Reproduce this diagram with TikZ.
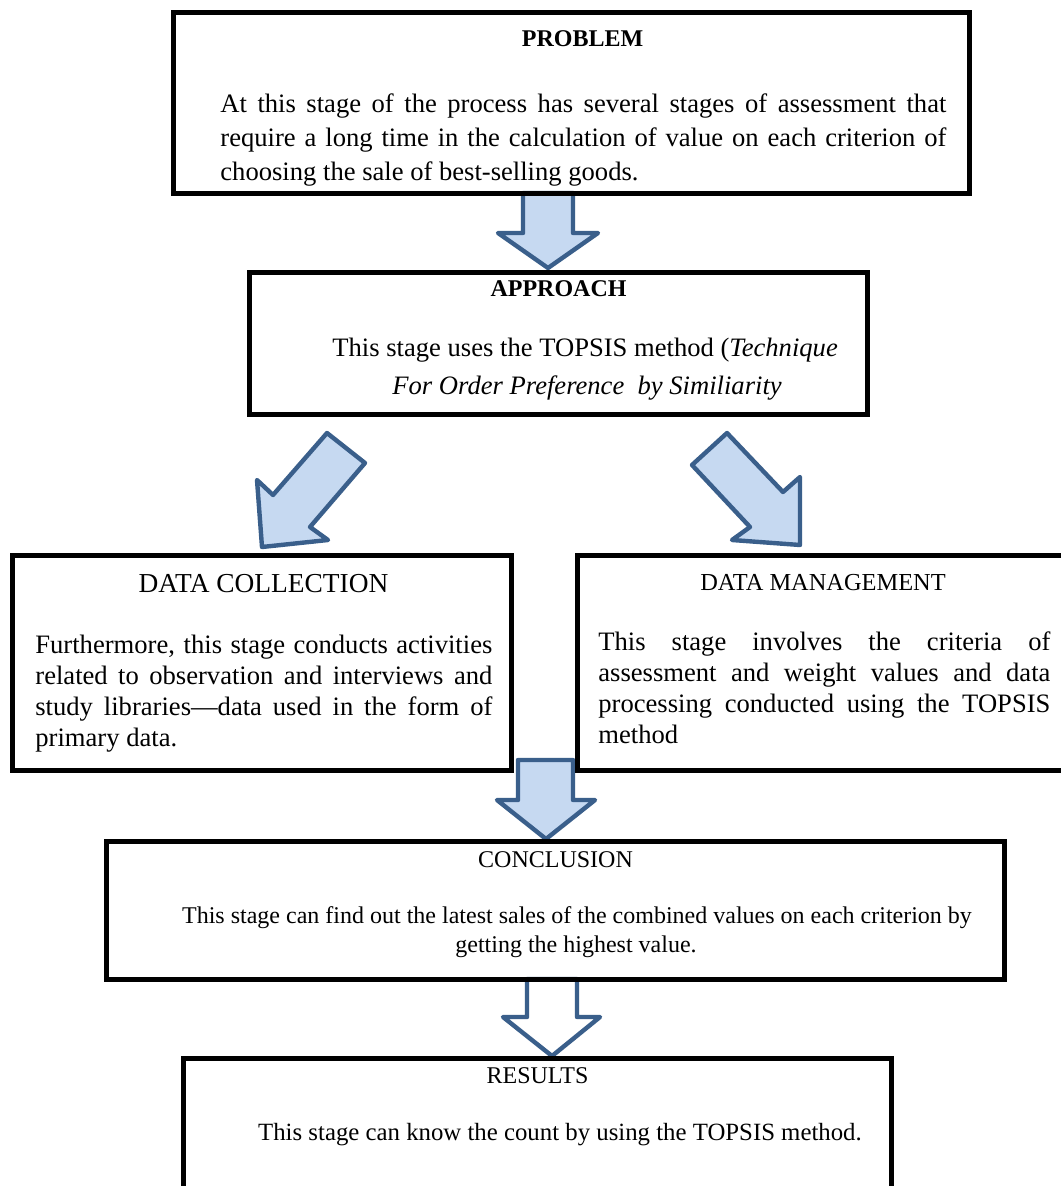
\documentclass[tikz,border=0pt]{standalone}
\usepackage{fontspec}
\setmainfont{Liberation Serif}
\usetikzlibrary{fit}
\definecolor{arrowfill}{HTML}{C6D9F1}
\definecolor{arrowline}{HTML}{3A5F8B}
\begin{document}
\begin{tikzpicture}[x=0.5pt,y=-0.5pt,
  box/.style={draw=black, line width=2.5pt, inner sep=0pt},
  blockarrow/.style={draw=arrowline, fill=arrowfill, line width=2.2pt, line join=round},
  hollowarrow/.style={blockarrow, fill=white},
  body/.style={inner sep=0pt, anchor=base west, font=\fontsize{13.3}{15}\selectfont},
  bodyc/.style={inner sep=0pt, anchor=base, font=\fontsize{13.7}{15}\selectfont},
  small/.style={inner sep=0pt, anchor=base, font=\fontsize{12}{14}\selectfont},
  headb/.style={inner sep=0pt, anchor=base, font=\fontsize{12}{14}\selectfont\bfseries},
  headr/.style={inner sep=0pt, anchor=base, font=\fontsize{12.2}{14}\selectfont}]
\useasboundingbox (0,0) rectangle (1060,1186);

% block arrows
\draw[blockarrow] (523,193) -- (573,193) -- (573,233) -- (598,233) -- (548,268) -- (498,233) -- (523,233) -- cycle;
\draw[blockarrow] (327,433) -- (365,463) -- (310,527) -- (328,540) -- (262,547) -- (257,480) -- (273,495) -- cycle;
\draw[blockarrow] (727,433) -- (692,465) -- (750,527) -- (732,540) -- (800,545) -- (800,477) -- (783,492) -- cycle;
\draw[blockarrow] (518,760) -- (573,760) -- (573,800) -- (595,800) -- (546,839) -- (497,800) -- (518,800) -- cycle;
\draw[hollowarrow] (527,979) -- (577,979) -- (577,1017) -- (600,1017) -- (552,1056) -- (503,1017) -- (527,1017) -- cycle;

% boxes
\node[box, fit={(173.5,12.5) (969.5,193.5)}] (problem) {};
\node[box, fit={(249.5,272.5) (867.5,414.5)}] (approach) {};
\node[box, fit={(12.5,555) (511,770.5)}] (collection) {};
\node[box, fit={(577.5,555.5) (1085,770.5)}] (management) {};
\node[box, fit={(106.5,841.5) (1004.5,979.5)}] (conclusion) {};
\node[box, fit={(183.5,1058) (891,1210)}] (results) {};

% problem
\node[headb] (ptitle) at (582.5,47) {PROBLEM};
\node[body] (p1) at (220,113) {\makebox[363pt][s]{At this stage of the process has several stages of assessment that}};
\node[body] (p2) at (220,147) {\makebox[363pt][s]{require a long time in the calculation of value on each criterion of}};
\node[body] (p3) at (220,181) {choosing the sale of best-selling goods.};

% approach
\node[headb] (atitle) at (558.5,297) {APPROACH};
\node[body] (a1) at (332,357) {This stage uses the TOPSIS method (\textit{Technique}};
\node[body] (a2) at (392,395) {\textit{For Order Preference~ by Similiarity}};

% data collection
\node[bodyc] (ctitle) at (263.5,592) {DATA COLLECTION};
\node[body] (c1) at (35,653) {\makebox[228.5pt][s]{Furthermore, this stage conducts activities}};
\node[body] (c2) at (35,684) {\makebox[228.5pt][s]{related to observation and interviews and}};
\node[body] (c3) at (35,715) {\makebox[228.5pt][s]{study libraries---data used in the form of}};
\node[body] (c4) at (35,746) {primary data.};

% data management
\node[headr] (mtitle) at (823,590) {DATA MANAGEMENT};
\node[body] (m1) at (598,650) {\makebox[226pt][s]{This stage involves the criteria of}};
\node[body] (m2) at (598,681) {\makebox[226pt][s]{assessment and weight values and data}};
\node[body] (m3) at (598,712) {\makebox[226pt][s]{processing conducted using the TOPSIS}};
\node[body] (m4) at (598,743) {method};

% conclusion
\node[small] (ktitle) at (555.5,867) {CONCLUSION};
\node[small] (k1) at (577,923) {This stage can find out the latest sales of the combined values on each criterion by};
\node[small] (k2) at (576,952) {getting the highest value.};

% results
\node[small] (rtitle) at (537.5,1083) {RESULTS};
\node[small, font=\fontsize{12.4}{14}\selectfont] (r1) at (560,1140) {This stage can know the count by using the TOPSIS method.};
\end{tikzpicture}
\end{document}
